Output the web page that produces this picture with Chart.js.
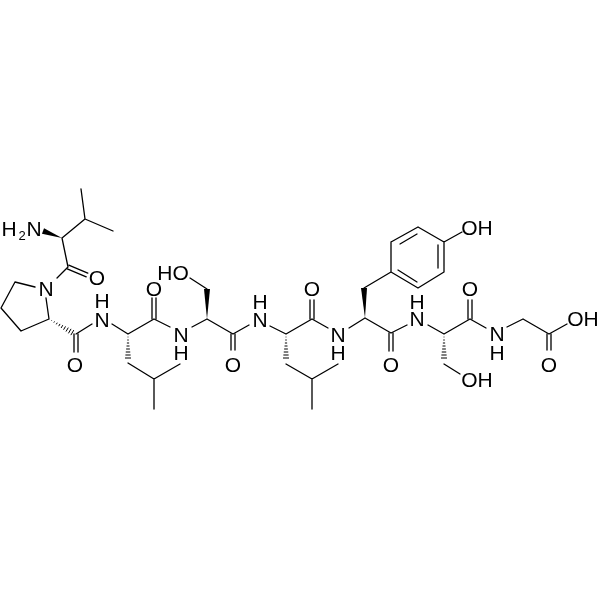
<!DOCTYPE html>
<html>
<head>
<meta charset="utf-8">
<title>Peptide structure</title>
<script src="https://cdn.jsdelivr.net/npm/chart.js@4"></script>
<style>
  html, body { margin: 0; padding: 0; background: #fff; }
  canvas { display: block; }
</style>
</head>
<body>
<canvas id="mol" width="600" height="600"></canvas>
<script>
'use strict';
// ---------- Data: values, in picture units ----------
// [x1, y1, x2, y2]
const singleBonds = [
    // Val
    [81,189,85,219], [85,219,113,231], [85,219,62,238], [62,238,68,267], [68,267,57,278],
    // Pro ring
    [35,287,15,282], [15,282,1,308], [1,308,21,331], [21,331,49,319], [49,319,46,298],
    // Pro C=O to Leu
    [76,334,92,324], [112,324,128,334], [128,363,154,379], [154,379,180,364], [154,379,154,409],
    [128,334,154,319], [154,319,170,327],
    // Ser
    [192,327,207,319], [207,289,190,278], [207,319,233,334], [233,334,249,325],
    // Leu
    [270,326,286,334], [286,364,312,379], [312,379,338,364], [312,379,312,409],
    [286,334,312,319], [312,319,328,328],
    // Tyr
    [349,328,365,318], [364,288,391,272], [391,272,391,242], [391,242,418,227], [418,227,444,242],
    [444,242,444,272], [444,272,418,288], [418,288,391,272], [444,242,462,232],
    [400,244,417,234], [438,245,438,268], [398,270,417,282],
    [365,318,391,333], [391,333,407,325],
    // Ser
    [428,325,444,334], [444,364,460,374], [444,334,470,319], [470,319,486,328],
    // Gly
    [507,327,523,319], [523,319,549,334], [549,334,567,324],
];
const doubleBonds = [
    [68,267,87,275], [76,334,76,352], [154,319,154,298], [233,334,233,350],
    [312,319,312,300], [391,333,391,351], [470,319,470,300], [549,334,549,350],
];
// narrow end first
const solidWedges = [[62,238,43,231], [207,319,207,289], [365,318,364,288]];
const hashWedges  = [[49,319,73,333], [128,334,128,358], [286,334,286,358], [444,334,444,358]];

const labelText = ['H','2','N','O','N','O','N','H','O','N','H','HO','O','N','H','O','N','H','OH','O','N','H','O','N','H','OH','O','OH'];
const labelX    = [9,22,34,97,46,75,102,102,154,181,181,173,233,260,260,312,338,338,477,391,417,417,470,497,497,477,549,583];
const labelY    = [229,235,229,278,289,365,320,301,289,335,353,273,365,320,302,289,335,353,228,365,319,302,289,334,353,380,365,319];
const labelSmall = ['2'];

// ---------- Chart ----------
const INK = '#000';

function segmentsToPoints(segs) {
    const pts = [];
    segs.forEach(s => {
        pts.push({ x: s[0], y: s[1] }, { x: s[2], y: s[3] }, { x: null, y: null });
    });
    return pts;
}

function doubleToPoints(segs, gap) {
    const out = [];
    segs.forEach(s => {
        const dx = s[2] - s[0], dy = s[3] - s[1];
        const len = Math.hypot(dx, dy);
        const nx = -dy / len * gap, ny = dx / len * gap;
        out.push([s[0] + nx, s[1] + ny, s[2] + nx, s[3] + ny]);
        out.push([s[0] - nx, s[1] - ny, s[2] - nx, s[3] - ny]);
    });
    return segmentsToPoints(out);
}

const moleculePlugin = {
    id: 'molecule',
    afterDatasetsDraw(chart) {
        const { ctx, scales } = chart;
        const px = v => scales.x.getPixelForValue(v);
        const py = v => scales.y.getPixelForValue(v);
        ctx.save();
        ctx.fillStyle = INK;
        ctx.strokeStyle = INK;

        solidWedges.forEach(w => {
            const x1 = px(w[0]), y1 = py(w[1]), x2 = px(w[2]), y2 = py(w[3]);
            const len = Math.hypot(x2 - x1, y2 - y1);
            const nx = -(y2 - y1) / len * 3, ny = (x2 - x1) / len * 3;
            ctx.beginPath();
            ctx.moveTo(x1, y1);
            ctx.lineTo(x2 + nx, y2 + ny);
            ctx.lineTo(x2 - nx, y2 - ny);
            ctx.closePath();
            ctx.fill();
        });

        ctx.lineWidth = 1;
        hashWedges.forEach(w => {
            const x1 = px(w[0]), y1 = py(w[1]), x2 = px(w[2]), y2 = py(w[3]);
            const len = Math.hypot(x2 - x1, y2 - y1);
            const ux = (x2 - x1) / len, uy = (y2 - y1) / len;
            for (let d = 3; d <= len; d += 3) {
                const half = 3 * d / len;
                const cx = x1 + ux * d, cy = y1 + uy * d;
                ctx.beginPath();
                ctx.moveTo(cx - uy * half, cy + ux * half);
                ctx.lineTo(cx + uy * half, cy - ux * half);
                ctx.stroke();
            }
        });

        ctx.textAlign = 'center';
        ctx.textBaseline = 'middle';
        labelText.forEach((t, i) => {
            ctx.font = (labelSmall.includes(t) ? '13px' : '21px') + ' "Liberation Sans", Arial, sans-serif';
            ctx.fillText(t, px(labelX[i]), py(labelY[i]) + 1);
        });
        ctx.restore();
    },
};

new Chart(document.getElementById('mol'), {
    type: 'scatter',
    data: {
        datasets: [
            { data: segmentsToPoints(singleBonds) },
            { data: doubleToPoints(doubleBonds, 2) },
        ].map(d => ({
            ...d,
            showLine: true,
            spanGaps: false,
            borderColor: INK,
            borderWidth: 1.3,
            pointRadius: 0,
            borderCapStyle: 'round',
        })),
    },
    options: {
        responsive: false,
        animation: false,
        layout: { padding: 0 },
        plugins: { legend: { display: false }, tooltip: { enabled: false } },
        scales: {
            x: { type: 'linear', min: 0, max: 600, display: false },
            y: { type: 'linear', min: 0, max: 600, reverse: true, display: false },
        },
    },
    plugins: [moleculePlugin],
});
</script>
</body>
</html>
